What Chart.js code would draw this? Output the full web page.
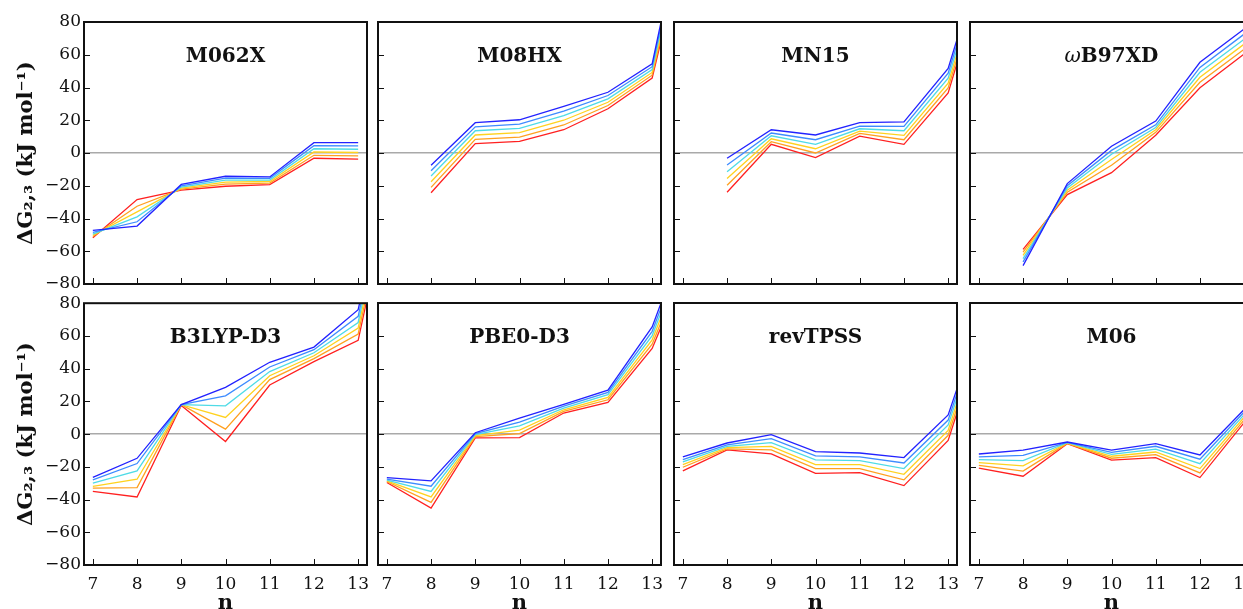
<!DOCTYPE html>
<html>
<head>
<meta charset="utf-8">
<title>ΔG2,3 vs n</title>
<script src="https://cdn.jsdelivr.net/npm/chart.js@4/dist/chart.umd.min.js"></script>
<style>
  html, body { margin: 0; padding: 0; background: #fff; overflow: hidden; }
  body { width: 1243px; height: 609px; position: relative; }
  canvas.panel { position: absolute; }
</style>
</head>
<body>
<script>
// ring size and axis ticks
const nValues = [7, 8, 9, 10, 11, 12, 13, 14];
const nTicks = [7, 8, 9, 10, 11, 12, 13];
const yTicks = [-80, -60, -40, -20, 0, 20, 40, 60, 80];

// curve colours, upper (blue) curve first, lower (red) curve last
const lineColors = ['#2222ff', '#3d8bff', '#4fdbe6', '#ffd21f', '#ffa020', '#ff2020'];

// six curves per functional, in the order of lineColors
const m062x = [
  [-47.2, -44.6, -19.2, -14.2, -14.6, 6.3, 6.3, null],
  [-48.5, -42.0, -20.0, -15.4, -15.5, 4.5, 4.4, null],
  [-49.5, -39.0, -20.8, -16.6, -16.5, 2.6, 2.3, null],
  [-50.2, -36.0, -21.5, -17.8, -17.4, 0.6, 0.3, null],
  [-51.0, -32.5, -22.1, -19.0, -18.4, -1.4, -1.7, null],
  [-51.8, -28.4, -22.7, -20.3, -19.3, -3.2, -3.8, null]
];
const m08hx = [
  [null, -7.5, 18.5, 20.3, 28.4, 37.1, 54.4, 182],
  [null, -10.8, 16.0, 17.6, 25.6, 35.1, 52.7, 177],
  [null, -14.0, 13.6, 15.0, 22.8, 33.1, 51.0, 172],
  [null, -17.6, 11.0, 12.4, 20.0, 31.0, 49.2, 168],
  [null, -21.0, 8.3, 9.7, 17.1, 29.0, 47.5, 163],
  [null, -24.3, 5.7, 7.1, 14.2, 27.0, 45.8, 159]
];
const mn15 = [
  [null, -3.2, 14.2, 11.0, 18.5, 19.0, 51.7, 140],
  [null, -7.3, 12.2, 8.1, 16.4, 16.2, 48.7, 137],
  [null, -11.4, 10.5, 5.3, 14.8, 13.6, 45.7, 135],
  [null, -15.6, 8.7, 2.6, 13.4, 10.8, 42.7, 132],
  [null, -19.7, 6.9, 0.0, 12.0, 8.1, 39.7, 130],
  [null, -24.0, 5.3, -2.8, 10.3, 5.3, 36.7, 127]
];
const wb97xd = [
  [null, -68.8, -18.7, 4.1, 19.5, 55.4, 75.7, null],
  [null, -66.5, -20.0, 1.6, 17.2, 52.3, 72.6, null],
  [null, -64.5, -21.4, -0.8, 15.6, 49.3, 69.5, null],
  [null, -62.5, -22.7, -4.0, 14.2, 46.2, 66.5, null],
  [null, -60.5, -24.0, -7.5, 12.6, 43.2, 63.4, null],
  [null, -58.8, -25.4, -12.0, 10.8, 39.8, 60.4, null]
];
const b3lyp = [
  [-26.5, -14.8, 18.0, 28.6, 43.9, 53.2, 76.0, 200],
  [-28.0, -18.0, 18.0, 23.4, 41.0, 51.6, 72.0, 197],
  [-30.0, -22.5, 18.0, 17.3, 38.2, 49.7, 68.2, 194],
  [-32.0, -27.6, 18.0, 10.2, 35.7, 47.9, 64.8, 191],
  [-33.0, -32.7, 18.0, 3.0, 33.3, 46.1, 61.1, 187],
  [-35.0, -38.4, 17.5, -4.5, 30.0, 44.3, 57.3, 183]
];
const pbe0 = [
  [-26.6, -28.6, 0.8, 9.7, 18.1, 26.8, 65.4, 138],
  [-27.6, -31.9, 0.2, 7.3, 17.0, 25.4, 62.7, 134],
  [-28.2, -35.1, -0.4, 4.9, 15.8, 24.0, 60.1, 130],
  [-28.6, -38.4, -1.0, 2.4, 14.8, 22.3, 57.5, 126],
  [-29.0, -41.8, -1.6, 0.2, 13.8, 20.9, 54.8, 121],
  [-29.6, -45.3, -2.4, -2.2, 12.8, 19.3, 52.2, 117]
];
const revtpss = [
  [-14.0, -5.5, -0.4, -10.8, -11.6, -14.4, 11.6, 92],
  [-15.6, -6.7, -2.8, -13.4, -14.0, -17.7, 8.5, 90],
  [-17.0, -7.5, -5.3, -15.8, -16.2, -21.1, 5.5, 88],
  [-18.7, -8.3, -7.5, -18.7, -18.7, -24.6, 2.2, 86],
  [-20.3, -9.1, -9.7, -21.1, -21.1, -28.0, -0.8, 83],
  [-22.5, -9.7, -12.2, -24.0, -23.6, -31.5, -3.9, 80]
];
const m06 = [
  [-12.2, -9.9, -4.9, -9.9, -5.9, -12.8, 15.0, null],
  [-14.0, -13.0, -5.1, -11.2, -7.5, -15.4, 13.4, null],
  [-15.6, -16.2, -5.3, -12.4, -9.3, -18.1, 11.8, null],
  [-17.5, -19.5, -5.5, -13.6, -11.0, -21.1, 10.2, null],
  [-19.1, -22.7, -5.7, -14.8, -12.6, -23.8, 8.6, null],
  [-20.9, -25.8, -5.9, -16.0, -14.4, -26.6, 6.9, null]
];

const panelTitles = ['M062X', 'M08HX', 'MN15', 'ωB97XD', 'B3LYP-D3', 'PBE0-D3', 'revTPSS', 'M06'];
const panelCurves = [m062x, m08hx, mn15, wb97xd, b3lyp, pbe0, revtpss, m06];

// grid geometry (plot frames)
const plotLeft = [84, 378, 674, 970];
const plotTop = [22, 303];
const plotW = 283;
const plotH = 262;

const SERIF = "'DejaVu Serif', 'Liberation Serif', serif";

// frame, inward tick marks and the functional's name inside the frame
const panelDecor = {
  id: 'panelDecor',
  afterDatasetsDraw(chart, args, opts) {
    const { ctx, chartArea: a, scales: { x, y } } = chart;
    ctx.save();
    ctx.strokeStyle = '#111';
    ctx.lineWidth = 1;
    ctx.beginPath();
    yTicks.forEach(v => {
      const py = Math.round(y.getPixelForValue(v)) + 0.5;
      ctx.moveTo(a.left, py);
      ctx.lineTo(a.left + 6, py);
    });
    nTicks.forEach(v => {
      const px = Math.round(x.getPixelForValue(v)) + 0.5;
      ctx.moveTo(px, a.bottom);
      ctx.lineTo(px, a.bottom - 6);
    });
    ctx.stroke();

    ctx.lineWidth = 2;
    ctx.strokeRect(a.left, a.top, a.right - a.left, a.bottom - a.top);

    // name of the functional; a leading ω is set in italic
    let text = opts.title;
    const cx = (a.left + a.right) / 2;
    const cy = a.top + 35;
    ctx.fillStyle = '#111';
    ctx.textBaseline = 'middle';
    ctx.textAlign = 'left';
    const bold = 'bold 20px ' + SERIF;
    const ital = 'italic 20px ' + SERIF;
    let prefix = '';
    if (text.startsWith('ω')) { prefix = 'ω'; text = text.slice(1); }
    ctx.font = ital;
    const pw = prefix ? ctx.measureText(prefix).width : 0;
    ctx.font = bold;
    const tw = ctx.measureText(text).width;
    let sx = cx - (pw + tw) / 2;
    if (prefix) {
      ctx.font = ital;
      ctx.fillText(prefix, sx, cy);
      sx += pw;
      ctx.font = bold;
    }
    ctx.fillText(text, sx, cy);
    ctx.restore();
  }
};

panelTitles.forEach((title, i) => {
  const col = i % 4;
  const row = Math.floor(i / 4);
  const firstCol = col === 0;
  const lastRow = row === 1;

  const left = firstCol ? 0 : plotLeft[col] - 4;
  const top = row === 0 ? 0 : 290;
  const padL = firstCol ? 0 : 4;
  const padT = plotTop[row] - top;
  const padB = lastRow ? 0 : 16;
  const yW = firstCol ? 84 : 0;
  const xH = lastRow ? 52 : 0;
  const width = padL + yW + plotW + 4;
  const height = padT + plotH + xH + padB;

  const canvas = document.createElement('canvas');
  canvas.className = 'panel';
  canvas.width = width;
  canvas.height = height;
  canvas.style.left = left + 'px';
  canvas.style.top = top + 'px';
  canvas.style.width = width + 'px';
  canvas.style.height = height + 'px';
  document.body.appendChild(canvas);

  const datasets = panelCurves[i].map((vals, k) => ({
    data: vals.map((v, j) => ({ x: nValues[j], y: v })),
    borderColor: lineColors[k],
    borderWidth: 1.3,
    pointRadius: 0,
    tension: 0,
    fill: false,
    clip: 0
  }));

  new Chart(canvas, {
    type: 'line',
    data: { datasets },
    plugins: [panelDecor],
    options: {
      responsive: false,
      animation: false,
      events: [],
      layout: { padding: { left: padL, right: 4, top: padT, bottom: padB } },
      plugins: {
        legend: { display: false },
        tooltip: { enabled: false },
        panelDecor: { title }
      },
      scales: {
        x: {
          type: 'linear',
          min: 6.8,
          max: 13.2,
          display: lastRow,
          afterBuildTicks: s => { s.ticks = nTicks.map(v => ({ value: v })); },
          afterFit: s => { s.height = xH; },
          grid: { display: false },
          border: { display: false },
          ticks: {
            color: '#111',
            padding: 1,
            maxRotation: 0,
            autoSkip: false,
            font: { family: SERIF, size: 17 }
          },
          title: {
            display: true,
            text: 'n',
            color: '#111',
            padding: { top: 0, bottom: 1 },
            font: { family: SERIF, size: 21, weight: 'bold' }
          }
        },
        y: {
          type: 'linear',
          min: -80,
          max: 80,
          afterBuildTicks: s => { s.ticks = yTicks.map(v => ({ value: v })); },
          afterFit: s => { s.width = yW; },
          grid: {
            drawTicks: false,
            lineWidth: 1.4,
            color: c => (c.tick && c.tick.value === 0 ? '#a9a9a9' : 'rgba(0,0,0,0)')
          },
          border: { display: false },
          ticks: {
            display: firstCol,
            color: '#111',
            padding: 3,
            font: { family: SERIF, size: 17 },
            callback: v => (v < 0 ? '\u2212' + Math.abs(v) : String(v))
          },
          title: {
            display: firstCol,
            text: 'ΔG₂,₃ (kJ mol⁻¹)',
            color: '#111',
            padding: { top: 14, bottom: 0 },
            font: { family: SERIF, size: 21, weight: 'bold' }
          }
        }
      }
    }
  });
});
</script>
</body>
</html>
